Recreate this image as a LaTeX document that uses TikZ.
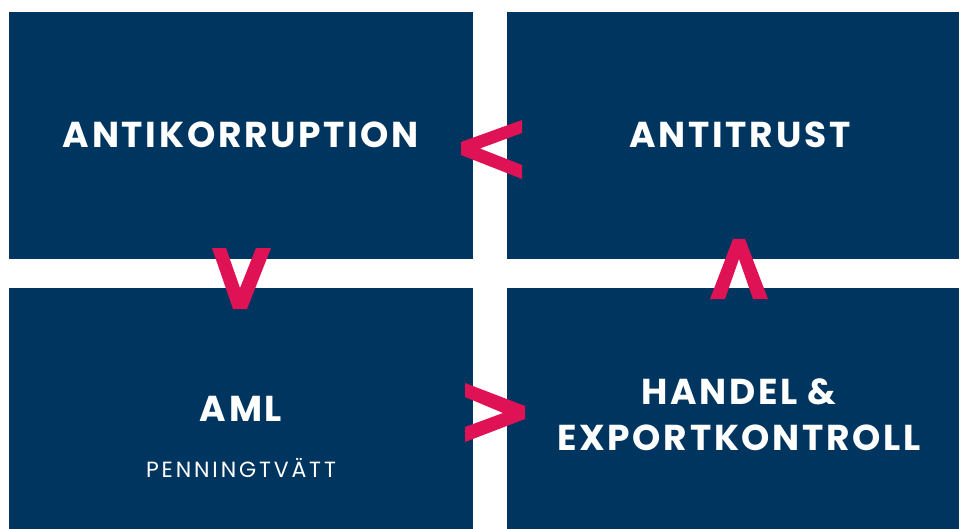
\documentclass[tikz,border=0pt]{standalone}
\usepackage{fontspec}
\setmainfont{Poppins}
\newfontfamily\titlefont[LetterSpace=7.5]{Poppins}
\newfontfamily\subfont[LetterSpace=13]{Poppins}
\definecolor{navy}{RGB}{0,53,95}
\definecolor{pink}{RGB}{222,18,84}
\begin{document}
\begin{tikzpicture}[x=1pt,y=-1pt,
  box/.style={fill=navy,draw=none,inner sep=0pt},
  title/.style={text=white,anchor=base,font=\titlefont\fontsize{36}{40}\selectfont\bfseries,align=center},
  sub/.style={text=white,anchor=base,font=\subfont\fontsize{22}{24}\selectfont},
  chev/.style={fill=pink,draw=none}]
\useasboundingbox (0,0) rectangle (960,529);
\node[box,minimum width=464pt,minimum height=247pt] (tl) at (241,135.5) {};
\node[box,minimum width=452pt,minimum height=247pt] (tr) at (733,135.5) {};
\node[box,minimum width=464pt,minimum height=241pt] (bl) at (241,408.5) {};
\node[box,minimum width=452pt,minimum height=241pt] (br) at (733,408.5) {};
\node[title] (t1) at (241,148) {ANTIKORRUPTION};
\node[title] (t2) at (740,148) {ANTITRUST};
\node[title] (t3) at (241,421) {AML};
\node[sub] (t3s) at (241,477) {PENNINGTVÄTT};
\node[title] (t4a) at (739,404.5) {HANDEL \&};
\node[title] (t4b) at (739,450) {EXPORTKONTROLL};
% chevrons
\fill[chev] (522,120) -- (461,142) -- (461,155) -- (522,179) -- (522,165) -- (480,148.5) -- (522,133) -- cycle;
\fill[chev] (212,248) -- (226,248) -- (240,288) -- (256,248) -- (271,248) -- (247,309) -- (233,309) -- cycle;
\fill[chev] (733,239) -- (745,239) -- (768,299) -- (753,299) -- (739,259) -- (725,299) -- (710,299) -- cycle;
\fill[chev] (465,383) -- (525,406) -- (525,419) -- (465,442) -- (465,427) -- (503,413) -- (465,397) -- cycle;
\end{tikzpicture}
\end{document}
